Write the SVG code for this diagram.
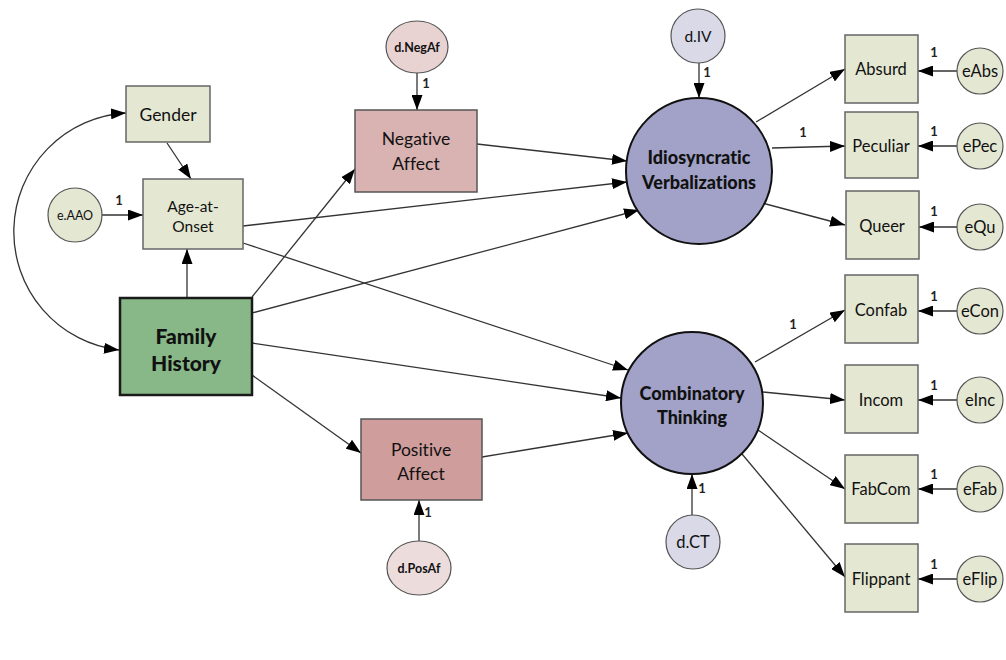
<svg xmlns="http://www.w3.org/2000/svg" width="1006" height="660" viewBox="0 0 1006 660">
<style>
text{font-family:Lato,"Open Sans","Liberation Sans",sans-serif;fill:#111;text-anchor:middle;dominant-baseline:central;font-variant-ligatures:none}
.obs{fill:#e4e7d2;stroke:#666;stroke-width:1.5}
.err{fill:#e4e7d2;stroke:#555;stroke-width:1.2}
.lat{fill:#a2a2c8;stroke:#111;stroke-width:2}
.dis{fill:#d9d9e7;stroke:#555;stroke-width:1.2}
.c{stroke:#333;stroke-width:1.3;fill:none;marker-end:url(#ah)}
.one{font-size:13px;font-weight:bold;fill:#222}
.ind{font-size:16.5px}
.bl{font-size:18px;font-weight:900}
</style>
<defs>
<marker id="ah" markerUnits="userSpaceOnUse" markerWidth="15" markerHeight="11" refX="15" refY="5.5" orient="auto-start-reverse">
<path d="M0,0 L15,5.5 L0,11 z" fill="#000"/>
</marker>
</defs>
<rect width="1006" height="660" fill="#fff"/>
<g id="connectors">
<path class="c" d="M126,113 A119,119 0 0 0 119,350" style="marker-start:url(#ah)"/>
<line class="c" x1="167" y1="143" x2="191" y2="179"/>
<line class="c" x1="102" y1="215" x2="143" y2="215"/>
<line class="c" x1="187" y1="298" x2="187" y2="249"/>
<line class="c" x1="417" y1="73" x2="417" y2="110"/>
<line class="c" x1="252" y1="297" x2="355" y2="169"/>
<line class="c" x1="477" y1="144" x2="627" y2="161"/>
<line class="c" x1="243" y1="226" x2="627" y2="182"/>
<line class="c" x1="252" y1="313" x2="639" y2="210"/>
<line class="c" x1="243" y1="243" x2="628" y2="370"/>
<line class="c" x1="252" y1="343" x2="621" y2="398"/>
<line class="c" x1="252" y1="375" x2="361" y2="453"/>
<line class="c" x1="482" y1="457" x2="628" y2="433"/>
<line class="c" x1="419" y1="541" x2="419" y2="500"/>
<line class="c" x1="699" y1="63" x2="699" y2="98"/>
<line class="c" x1="692" y1="515" x2="692" y2="474"/>
<line class="c" x1="756" y1="122" x2="845" y2="69"/>
<line class="c" x1="772" y1="148" x2="845" y2="146"/>
<line class="c" x1="762" y1="203" x2="845" y2="225"/>
<line class="c" x1="755" y1="362" x2="845" y2="310"/>
<line class="c" x1="763" y1="392" x2="845" y2="400"/>
<line class="c" x1="758" y1="430" x2="845" y2="489"/>
<line class="c" x1="742" y1="454" x2="845" y2="577"/>
<line class="c" x1="957" y1="71" x2="918" y2="71"/>
<line class="c" x1="957" y1="146" x2="918" y2="146"/>
<line class="c" x1="957" y1="227" x2="919" y2="227"/>
<line class="c" x1="957" y1="311" x2="918" y2="311"/>
<line class="c" x1="957" y1="400" x2="918" y2="400"/>
<line class="c" x1="957" y1="489" x2="918" y2="489"/>
<line class="c" x1="957" y1="579" x2="918" y2="579"/>
<text class="one" x="119" y="200">1</text>
<text class="one" x="426" y="83">1</text>
<text class="one" x="428" y="512">1</text>
<text class="one" x="707" y="72">1</text>
<text class="one" x="702" y="488">1</text>
<text class="one" x="803" y="132">1</text>
<text class="one" x="793" y="324">1</text>
<text class="one" x="934" y="52">1</text>
<text class="one" x="934" y="131">1</text>
<text class="one" x="934" y="211">1</text>
<text class="one" x="934" y="296">1</text>
<text class="one" x="934" y="385">1</text>
<text class="one" x="934" y="474">1</text>
<text class="one" x="934" y="564">1</text>
</g>
<g id="gender"><rect class="obs" x="126" y="86" width="84" height="56"/><text x="168" y="114" style="font-size:17.5px">Gender</text></g>
<g id="age-at-onset"><rect class="obs" x="143" y="179" width="100" height="70"/><text x="193" y="206" style="font-size:15.5px">Age-at-</text><text x="193" y="226" style="font-size:15.5px">Onset</text></g>
<g id="e-aao"><circle class="err" cx="75" cy="215" r="27"/><text x="75" y="215" style="font-size:12.5px">e.AAO</text></g>
<g id="family-history"><rect x="120" y="298" width="132" height="97" fill="#88b888" stroke="#1a1a1a" stroke-width="2.5"/><text x="186" y="335" style="font-size:21px;font-weight:900">Family</text><text x="186" y="362" style="font-size:21px;font-weight:900">History</text></g>
<g id="negative-affect"><rect x="355" y="110" width="122" height="82" fill="#d9b2b2" stroke="#555" stroke-width="1.5"/><text x="416" y="138" style="font-size:17.5px">Negative</text><text x="416" y="163" style="font-size:17.5px">Affect</text></g>
<g id="d-negaf"><ellipse cx="417" cy="47" rx="31" ry="26" fill="#e9d2d2" stroke="#555" stroke-width="1.2"/><text x="417" y="47" style="font-size:12.5px;font-weight:bold">d.NegAf</text></g>
<g id="positive-affect"><rect x="361" y="419" width="121" height="81" fill="#d09d9d" stroke="#555" stroke-width="1.5"/><text x="421" y="449" style="font-size:17.5px">Positive</text><text x="421" y="473" style="font-size:17.5px">Affect</text></g>
<g id="d-posaf"><ellipse cx="419" cy="568" rx="32" ry="27" fill="#eddcdc" stroke="#555" stroke-width="1.2"/><text x="419" y="568" style="font-size:12.5px;font-weight:bold">d.PosAf</text></g>
<g id="iv"><circle class="lat" cx="699" cy="171" r="73"/><text class="bl" x="699" y="157">Idiosyncratic</text><text class="bl" x="699" y="182">Verbalizations</text></g>
<g id="d-iv"><circle class="dis" cx="698" cy="36" r="27"/><text x="698" y="36" style="font-size:15.5px">d.IV</text></g>
<g id="ct"><circle class="lat" cx="692" cy="403" r="71"/><text class="bl" x="692" y="393">Combinatory</text><text class="bl" x="692" y="417">Thinking</text></g>
<g id="d-ct"><circle class="dis" cx="693" cy="542" r="27"/><text x="693" y="542" style="font-size:16.5px">d.CT</text></g>
<g id="absurd"><rect class="obs" x="845" y="35" width="73" height="68"/><text class="ind" x="881" y="69">Absurd</text></g>
<g id="peculiar"><rect class="obs" x="845" y="112" width="73" height="66"/><text class="ind" x="881" y="146">Peculiar</text></g>
<g id="queer"><rect class="obs" x="846" y="191" width="73" height="68"/><text class="ind" x="882" y="226">Queer</text></g>
<g id="confab"><rect class="obs" x="845" y="275" width="73" height="68"/><text class="ind" x="881" y="310">Confab</text></g>
<g id="incom"><rect class="obs" x="845" y="365" width="73" height="68"/><text class="ind" x="881" y="400">Incom</text></g>
<g id="fabcom"><rect class="obs" x="845" y="455" width="73" height="68"/><text class="ind" x="881" y="489">FabCom</text></g>
<g id="flippant"><rect class="obs" x="845" y="544" width="73" height="68"/><text class="ind" x="881" y="579">Flippant</text></g>
<g id="eabs"><circle class="err" cx="980" cy="71" r="23"/><text class="ind" x="980" y="71">eAbs</text></g>
<g id="epec"><circle class="err" cx="980" cy="146" r="23"/><text class="ind" x="980" y="146">ePec</text></g>
<g id="equ"><circle class="err" cx="980" cy="227" r="23"/><text class="ind" x="980" y="227">eQu</text></g>
<g id="econ"><circle class="err" cx="980" cy="311" r="23"/><text class="ind" x="980" y="311">eCon</text></g>
<g id="einc"><circle class="err" cx="980" cy="400" r="23"/><text class="ind" x="980" y="400">eInc</text></g>
<g id="efab"><circle class="err" cx="980" cy="489" r="23"/><text class="ind" x="980" y="489">eFab</text></g>
<g id="eflip"><circle class="err" cx="980" cy="579" r="23"/><text class="ind" x="980" y="579">eFlip</text></g>
</svg>
